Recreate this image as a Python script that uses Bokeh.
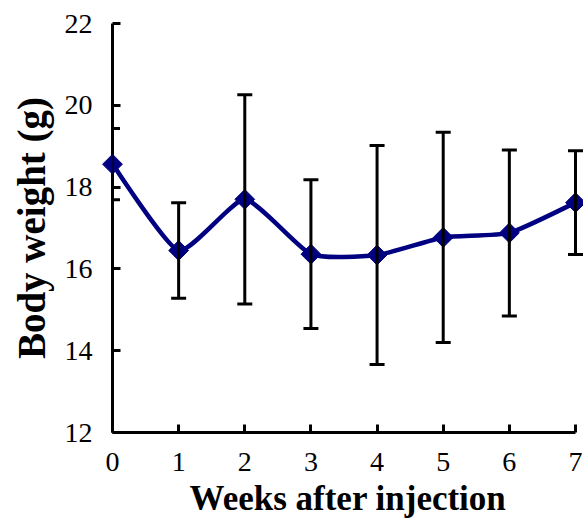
import numpy as np
from bokeh.plotting import figure
from bokeh.models import Range1d, ColumnDataSource, Whisker, TeeHead, FixedTicker
from bokeh.embed import file_html
from bokeh.resources import INLINE

weeks = [0, 1, 2, 3, 4, 5, 6, 7]
mean_weight = [18.56, 16.45, 17.70, 16.36, 16.34, 16.77, 16.88, 17.62]
sd_weight = [0.87, 1.17, 2.56, 1.82, 2.68, 2.57, 2.03, 1.27]
y_ticks = [12, 14, 16, 18, 20, 22]
x_ticks = [0, 1, 2, 3, 4, 5, 6, 7]

x = np.array(weeks, dtype=float)
m = np.array(mean_weight)
s = np.array(sd_weight)

p = figure(width=583, height=520, output_backend="svg", toolbar_location=None,
           x_range=Range1d(0, 7.121), y_range=Range1d(12, 22),
           min_border_left=112, min_border_right=0, min_border_top=23, min_border_bottom=82)
p.outline_line_color = None
p.xgrid.visible = False
p.ygrid.visible = False

FONT = "Liberation Serif"

src = ColumnDataSource(dict(x=x, upper=m + s, lower=m - s))
wh = Whisker(base="x", upper="upper", lower="lower", source=src,
             line_color="black", line_width=3, level="overlay",
             upper_head=TeeHead(size=15, line_width=3, line_color="black"),
             lower_head=TeeHead(size=15, line_width=3, line_color="black"))
p.add_layout(wh)

# smoothed line (Bezier segments through the data points)
P = np.column_stack([x, m])
Pext = np.vstack([P[0], P, P[-1]])
t = 0.09
x0, y0, x1, y1, cx0, cy0, cx1, cy1 = [], [], [], [], [], [], [], []
for i in range(len(P) - 1):
    p0, p1, p2, p3 = Pext[i], Pext[i + 1], Pext[i + 2], Pext[i + 3]
    c0 = p1 + (p2 - p0) * t
    c1 = p2 - (p3 - p1) * t
    x0.append(p1[0]); y0.append(p1[1]); x1.append(p2[0]); y1.append(p2[1])
    cx0.append(c0[0]); cy0.append(c0[1]); cx1.append(c1[0]); cy1.append(c1[1])
p.bezier(x0=x0, y0=y0, x1=x1, y1=y1, cx0=cx0, cy0=cy0, cx1=cx1, cy1=cy1,
         line_color="#000080", line_width=4.5, level="overlay")

p.scatter(x, m, marker="square", angle=np.pi / 4, size=14,
          fill_color="#000080", line_color="#000080", level="overlay")

for ax in (p.xaxis[0], p.yaxis[0]):
    ax.axis_line_width = 3
    ax.axis_line_color = "black"
    ax.major_tick_line_width = 3
    ax.major_tick_line_color = "black"
    ax.major_tick_in = 8
    ax.major_tick_out = 0
    ax.minor_tick_in = 0
    ax.minor_tick_out = 0
    ax.major_label_text_font = FONT
    ax.major_label_text_font_size = "28px"
    ax.major_label_text_color = "black"
    ax.axis_label_text_font = FONT
    ax.axis_label_text_font_style = "bold"
    ax.axis_label_text_color = "black"

p.xaxis.ticker = FixedTicker(ticks=x_ticks)
p.yaxis.ticker = FixedTicker(ticks=y_ticks)
p.xaxis.bounds = (0, 7)
p.xaxis.axis_label = "Weeks after injection"
p.yaxis.axis_label = "Body weight (g)"
p.xaxis.axis_label_text_font_size = "35px"
p.yaxis.axis_label_text_font_size = "39px"
p.xaxis.major_label_standoff = 20
p.yaxis.major_label_standoff = 20
p.xaxis.axis_label_standoff = 5
p.yaxis.axis_label_standoff = 9

open("out.html", "w").write(file_html(p, INLINE))
